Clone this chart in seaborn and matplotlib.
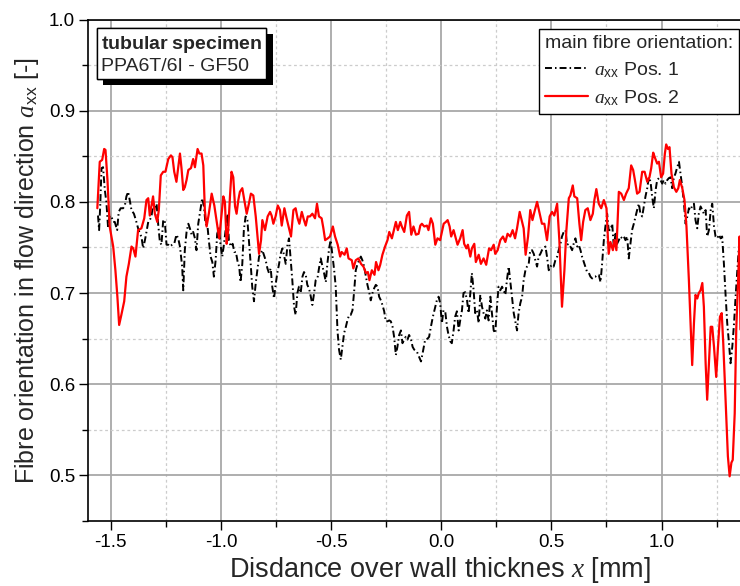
import numpy as np
import pandas as pd
import matplotlib
matplotlib.use("Agg")
import matplotlib.pyplot as plt
import seaborn as sns
from matplotlib.ticker import MultipleLocator, FormatStrFormatter
import matplotlib.patheffects as pe

# ---------------- data ----------------
pos1_x = [
    -1.558, -1.553, -1.548, -1.542, -1.535, -1.527, -1.520, -1.512, -1.505, -1.497,
    -1.489, -1.482, -1.471, -1.464, -1.455, -1.444, -1.436, -1.429, -1.421, -1.414,
    -1.406, -1.395, -1.386, -1.376, -1.368, -1.361, -1.353, -1.345, -1.338, -1.330,
    -1.323, -1.315, -1.308, -1.300, -1.292, -1.285, -1.277, -1.270, -1.262, -1.255,
    -1.247, -1.239, -1.232, -1.221, -1.212, -1.202, -1.194, -1.186, -1.176, -1.171,
    -1.164, -1.156, -1.148, -1.141, -1.133, -1.126, -1.118, -1.111, -1.103, -1.092,
    -1.085, -1.077, -1.070, -1.061, -1.055, -1.047, -1.039, -1.032, -1.024, -1.017,
    -1.009, -1.002, -0.994, -0.986, -0.977, -0.970, -0.964, -0.955, -0.947, -0.939,
    -0.932, -0.924, -0.917, -0.911, -0.903, -0.896, -0.888, -0.880, -0.873, -0.865,
    -0.858, -0.850, -0.842, -0.835, -0.827, -0.820, -0.812, -0.805, -0.797, -0.789,
    -0.782, -0.774, -0.767, -0.759, -0.752, -0.744, -0.736, -0.729, -0.721, -0.714,
    -0.706, -0.698, -0.691, -0.683, -0.676, -0.668, -0.661, -0.653, -0.646, -0.638,
    -0.630, -0.623, -0.615, -0.608, -0.600, -0.592, -0.585, -0.577, -0.570, -0.562,
    -0.555, -0.547, -0.539, -0.532, -0.524, -0.517, -0.509, -0.502, -0.494, -0.486,
    -0.479, -0.471, -0.464, -0.456, -0.449, -0.441, -0.433, -0.426, -0.418, -0.411,
    -0.403, -0.395, -0.388, -0.380, -0.373, -0.365, -0.358, -0.350, -0.342, -0.335,
    -0.327, -0.320, -0.312, -0.305, -0.297, -0.289, -0.282, -0.274, -0.267, -0.259,
    -0.252, -0.244, -0.236, -0.229, -0.221, -0.214, -0.206, -0.199, -0.191, -0.183,
    -0.176, -0.168, -0.161, -0.153, -0.146, -0.138, -0.130, -0.123, -0.111, -0.092,
    -0.083, -0.073, -0.062, -0.055, -0.047, -0.038, -0.029, -0.020, -0.012, -0.005,
    0.003, 0.010, 0.018, 0.026, 0.033, 0.041, 0.048, 0.056, 0.063, 0.071,
    0.079, 0.086, 0.094, 0.101, 0.109, 0.117, 0.124, 0.132, 0.139, 0.147,
    0.154, 0.162, 0.170, 0.177, 0.185, 0.192, 0.200, 0.207, 0.215, 0.223,
    0.230, 0.238, 0.245, 0.253, 0.260, 0.268, 0.276, 0.283, 0.291, 0.298,
    0.306, 0.313, 0.321, 0.329, 0.336, 0.344, 0.351, 0.359, 0.367, 0.374,
    0.382, 0.389, 0.397, 0.404, 0.412, 0.420, 0.427, 0.435, 0.442, 0.450,
    0.457, 0.465, 0.473, 0.480, 0.488, 0.495, 0.503, 0.510, 0.518, 0.526,
    0.533, 0.541, 0.548, 0.556, 0.564, 0.571, 0.579, 0.586, 0.594, 0.601,
    0.609, 0.617, 0.624, 0.632, 0.639, 0.647, 0.654, 0.662, 0.670, 0.677,
    0.685, 0.692, 0.700, 0.707, 0.715, 0.723, 0.730, 0.738, 0.745, 0.753,
    0.760, 0.768, 0.776, 0.783, 0.791, 0.798, 0.806, 0.813, 0.821, 0.829,
    0.836, 0.844, 0.851, 0.859, 0.866, 0.874, 0.882, 0.889, 0.897, 0.904,
    0.912, 0.920, 0.927, 0.935, 0.942, 0.950, 0.957, 0.965, 0.973, 0.980,
    0.988, 0.995, 1.003, 1.010, 1.018, 1.026, 1.033, 1.041, 1.048, 1.056,
    1.063, 1.071, 1.079, 1.086, 1.094, 1.101, 1.109, 1.117, 1.124, 1.132,
    1.139, 1.147, 1.154, 1.162, 1.169, 1.177, 1.185, 1.192, 1.200, 1.207,
    1.215, 1.223, 1.230, 1.238, 1.245, 1.253, 1.260, 1.268, 1.275, 1.283,
    1.291, 1.298, 1.306, 1.313, 1.321, 1.329, 1.336, 1.344, 1.351, 1.358,
]
pos1_y = [
    0.785, 0.769, 0.795, 0.837, 0.838, 0.813, 0.800, 0.771, 0.785, 0.784,
    0.778, 0.778, 0.769, 0.789, 0.793, 0.793, 0.796, 0.806, 0.811, 0.802,
    0.791, 0.787, 0.780, 0.771, 0.765, 0.762, 0.749, 0.758, 0.767, 0.778,
    0.780, 0.784, 0.800, 0.791, 0.798, 0.776, 0.756, 0.753, 0.780, 0.780,
    0.753, 0.753, 0.751, 0.753, 0.754, 0.764, 0.760, 0.751, 0.729, 0.703,
    0.747, 0.767, 0.776, 0.771, 0.764, 0.767, 0.760, 0.747, 0.776, 0.793,
    0.804, 0.795, 0.776, 0.773, 0.758, 0.740, 0.734, 0.718, 0.736, 0.765,
    0.771, 0.753, 0.740, 0.754, 0.773, 0.787, 0.758, 0.751, 0.754, 0.745,
    0.745, 0.734, 0.729, 0.712, 0.732, 0.769, 0.784, 0.780, 0.758, 0.732,
    0.707, 0.691, 0.711, 0.725, 0.740, 0.743, 0.747, 0.742, 0.736, 0.727,
    0.722, 0.727, 0.707, 0.694, 0.709, 0.722, 0.732, 0.743, 0.749, 0.742,
    0.732, 0.753, 0.760, 0.736, 0.714, 0.685, 0.676, 0.700, 0.707, 0.700,
    0.718, 0.723, 0.720, 0.709, 0.705, 0.696, 0.687, 0.700, 0.714, 0.716,
    0.727, 0.738, 0.729, 0.722, 0.712, 0.732, 0.749, 0.758, 0.742, 0.725,
    0.707, 0.659, 0.638, 0.627, 0.641, 0.656, 0.663, 0.670, 0.676, 0.676,
    0.681, 0.703, 0.725, 0.732, 0.736, 0.740, 0.736, 0.729, 0.718, 0.709,
    0.701, 0.692, 0.700, 0.705, 0.709, 0.707, 0.696, 0.692, 0.687, 0.680,
    0.669, 0.669, 0.670, 0.669, 0.663, 0.652, 0.632, 0.641, 0.654, 0.659,
    0.645, 0.649, 0.652, 0.649, 0.654, 0.650, 0.641, 0.638, 0.636, 0.625,
    0.636, 0.649, 0.650, 0.652, 0.663, 0.674, 0.683, 0.692, 0.696, 0.689,
    0.667, 0.681, 0.680, 0.663, 0.654, 0.647, 0.645, 0.659, 0.674, 0.680,
    0.659, 0.670, 0.681, 0.700, 0.701, 0.692, 0.678, 0.700, 0.722, 0.703,
    0.678, 0.681, 0.667, 0.698, 0.685, 0.678, 0.672, 0.681, 0.670, 0.696,
    0.678, 0.659, 0.656, 0.685, 0.707, 0.703, 0.707, 0.703, 0.698, 0.714,
    0.729, 0.714, 0.696, 0.678, 0.669, 0.659, 0.678, 0.689, 0.696, 0.714,
    0.725, 0.729, 0.732, 0.747, 0.747, 0.743, 0.736, 0.729, 0.740, 0.743,
    0.747, 0.749, 0.751, 0.740, 0.725, 0.729, 0.731, 0.729, 0.736, 0.740,
    0.747, 0.754, 0.762, 0.767, 0.769, 0.753, 0.754, 0.751, 0.747, 0.754,
    0.760, 0.751, 0.753, 0.747, 0.740, 0.734, 0.729, 0.723, 0.722, 0.718,
    0.716, 0.718, 0.718, 0.720, 0.720, 0.712, 0.732, 0.758, 0.773, 0.787,
    0.769, 0.769, 0.776, 0.751, 0.765, 0.754, 0.758, 0.762, 0.760, 0.762,
    0.758, 0.762, 0.738, 0.754, 0.769, 0.776, 0.784, 0.791, 0.798, 0.787,
    0.784, 0.796, 0.806, 0.815, 0.827, 0.822, 0.806, 0.793, 0.813, 0.824,
    0.826, 0.824, 0.820, 0.824, 0.820, 0.824, 0.826, 0.827, 0.815, 0.827,
    0.831, 0.838, 0.844, 0.831, 0.816, 0.800, 0.776, 0.784, 0.793, 0.791,
    0.796, 0.798, 0.780, 0.771, 0.787, 0.795, 0.791, 0.787, 0.791, 0.762,
    0.769, 0.791, 0.798, 0.773, 0.762, 0.760, 0.764, 0.760, 0.762, 0.732,
    0.696, 0.667, 0.645, 0.623, 0.641, 0.667, 0.696, 0.725, 0.751, 0.758,
]

pos2_x = [
    -1.561, -1.550, -1.539, -1.530, -1.524, -1.515, -1.505, -1.489, -1.479, -1.470,
    -1.462, -1.452, -1.439, -1.429, -1.418, -1.406, -1.398, -1.388, -1.376, -1.361,
    -1.348, -1.338, -1.330, -1.323, -1.315, -1.308, -1.300, -1.289, -1.282, -1.273,
    -1.262, -1.252, -1.239, -1.227, -1.220, -1.212, -1.202, -1.194, -1.186, -1.179,
    -1.171, -1.164, -1.156, -1.148, -1.136, -1.126, -1.118, -1.106, -1.098, -1.088,
    -1.080, -1.073, -1.065, -1.055, -1.042, -1.030, -1.020, -1.008, -0.997, -0.989,
    -0.982, -0.974, -0.967, -0.959, -0.952, -0.944, -0.936, -0.929, -0.921, -0.914,
    -0.903, -0.894, -0.883, -0.873, -0.864, -0.853, -0.842, -0.827, -0.818, -0.812,
    -0.800, -0.788, -0.777, -0.770, -0.762, -0.752, -0.742, -0.732, -0.724, -0.712,
    -0.702, -0.691, -0.682, -0.671, -0.661, -0.652, -0.644, -0.633, -0.623, -0.615,
    -0.606, -0.596, -0.585, -0.573, -0.564, -0.555, -0.543, -0.535, -0.527, -0.515,
    -0.505, -0.492, -0.482, -0.470, -0.459, -0.452, -0.439, -0.429, -0.421, -0.406,
    -0.399, -0.388, -0.376, -0.364, -0.353, -0.342, -0.333, -0.326, -0.315, -0.303,
    -0.296, -0.285, -0.277, -0.267, -0.255, -0.244, -0.236, -0.224, -0.217, -0.206,
    -0.197, -0.186, -0.179, -0.168, -0.156, -0.146, -0.136, -0.126, -0.115, -0.103,
    -0.095, -0.088, -0.077, -0.065, -0.058, -0.047, -0.038, -0.027, -0.017, -0.005,
    0.003, 0.011, 0.021, 0.029, 0.038, 0.045, 0.056, 0.064, 0.074, 0.086,
    0.097, 0.104, 0.114, 0.121, 0.132, 0.139, 0.150, 0.157, 0.170, 0.180,
    0.192, 0.204, 0.217, 0.226, 0.238, 0.245, 0.256, 0.268, 0.280, 0.291,
    0.301, 0.313, 0.324, 0.335, 0.344, 0.356, 0.365, 0.374, 0.383, 0.394,
    0.404, 0.414, 0.423, 0.435, 0.447, 0.457, 0.468, 0.480, 0.492, 0.503,
    0.513, 0.526, 0.536, 0.548, 0.559, 0.568, 0.579, 0.586, 0.597, 0.604,
    0.617, 0.627, 0.635, 0.644, 0.654, 0.665, 0.677, 0.688, 0.695, 0.704,
    0.715, 0.726, 0.738, 0.750, 0.760, 0.768, 0.779, 0.786, 0.795, 0.806,
    0.817, 0.829, 0.839, 0.851, 0.862, 0.871, 0.879, 0.889, 0.900, 0.912,
    0.923, 0.935, 0.945, 0.953, 0.962, 0.969, 0.980, 0.988, 0.998, 1.007,
    1.015, 1.021, 1.029, 1.036, 1.045, 1.056, 1.067, 1.076, 1.083, 1.094,
    1.104, 1.113, 1.124, 1.132, 1.139, 1.147, 1.154, 1.162, 1.169, 1.177,
    1.185, 1.192, 1.200, 1.207, 1.215, 1.223, 1.230, 1.238, 1.248, 1.256,
    1.265, 1.273, 1.280, 1.291, 1.301, 1.309, 1.317, 1.323, 1.332, 1.339,
    1.348, 1.354, 1.358,
]
pos2_y = [
    0.793, 0.844, 0.846, 0.858, 0.857, 0.824, 0.773, 0.751, 0.725, 0.696,
    0.665, 0.676, 0.691, 0.718, 0.732, 0.751, 0.749, 0.740, 0.769, 0.771,
    0.782, 0.802, 0.804, 0.785, 0.796, 0.806, 0.787, 0.778, 0.791, 0.829,
    0.833, 0.833, 0.847, 0.851, 0.849, 0.833, 0.822, 0.838, 0.853, 0.837,
    0.813, 0.816, 0.824, 0.835, 0.837, 0.847, 0.838, 0.858, 0.853, 0.853,
    0.840, 0.791, 0.773, 0.787, 0.809, 0.796, 0.780, 0.760, 0.787, 0.806,
    0.800, 0.754, 0.769, 0.806, 0.833, 0.827, 0.795, 0.787, 0.802, 0.811,
    0.815, 0.802, 0.787, 0.798, 0.809, 0.807, 0.784, 0.743, 0.758, 0.780,
    0.769, 0.784, 0.789, 0.785, 0.776, 0.784, 0.796, 0.791, 0.774, 0.793,
    0.782, 0.771, 0.762, 0.791, 0.793, 0.782, 0.776, 0.789, 0.780, 0.774,
    0.784, 0.784, 0.787, 0.782, 0.798, 0.784, 0.782, 0.771, 0.758, 0.760,
    0.762, 0.773, 0.762, 0.753, 0.740, 0.745, 0.742, 0.749, 0.738, 0.736,
    0.727, 0.736, 0.738, 0.732, 0.729, 0.722, 0.723, 0.714, 0.725, 0.720,
    0.734, 0.725, 0.731, 0.742, 0.751, 0.758, 0.767, 0.760, 0.767, 0.778,
    0.769, 0.778, 0.773, 0.767, 0.785, 0.789, 0.764, 0.773, 0.764, 0.765,
    0.774, 0.776, 0.773, 0.774, 0.769, 0.782, 0.776, 0.753, 0.760, 0.758,
    0.767, 0.776, 0.778, 0.780, 0.773, 0.762, 0.769, 0.762, 0.753, 0.760,
    0.769, 0.754, 0.749, 0.753, 0.740, 0.749, 0.754, 0.734, 0.742, 0.732,
    0.738, 0.731, 0.749, 0.747, 0.753, 0.743, 0.747, 0.758, 0.762, 0.756,
    0.765, 0.762, 0.769, 0.760, 0.771, 0.789, 0.780, 0.771, 0.742, 0.762,
    0.791, 0.780, 0.789, 0.800, 0.787, 0.776, 0.776, 0.758, 0.784, 0.789,
    0.785, 0.798, 0.758, 0.685, 0.725, 0.769, 0.804, 0.807, 0.818, 0.806,
    0.804, 0.776, 0.758, 0.778, 0.791, 0.793, 0.780, 0.787, 0.802, 0.814,
    0.798, 0.793, 0.802, 0.793, 0.743, 0.756, 0.747, 0.758, 0.747, 0.811,
    0.809, 0.802, 0.809, 0.815, 0.840, 0.835, 0.824, 0.809, 0.811, 0.833,
    0.833, 0.822, 0.827, 0.837, 0.854, 0.849, 0.842, 0.844, 0.827, 0.831,
    0.853, 0.863, 0.858, 0.860, 0.831, 0.816, 0.811, 0.815, 0.824, 0.815,
    0.802, 0.773, 0.714, 0.663, 0.621, 0.667, 0.698, 0.694, 0.700, 0.703,
    0.711, 0.685, 0.623, 0.583, 0.623, 0.663, 0.663, 0.641, 0.608, 0.641,
    0.674, 0.678, 0.645, 0.579, 0.521, 0.499, 0.514, 0.517, 0.568, 0.660,
    0.718, 0.762, 0.660,
]

label_pos1 = r"$a_{\mathrm{xx}}$ Pos. 1"
label_pos2 = r"$a_{\mathrm{xx}}$ Pos. 2"
legend_title = "main fibre orientation:"
box_line1 = "tubular specimen"
box_line2 = "PPA6T/6I - GF50"
x_label = r"Disdance over wall thicknes $x$ [mm]"
y_label = r"Fibre orientation in flow direction $a_{\mathrm{xx}}$ [-]"

# ---------------- style ----------------
sns.set_style("white")
plt.rcParams["font.family"] = ["Liberation Sans", "DejaVu Sans"]
plt.rcParams["mathtext.fontset"] = "custom"
plt.rcParams["mathtext.rm"] = "Liberation Sans"
plt.rcParams["mathtext.it"] = "Liberation Serif:italic"
plt.rcParams["mathtext.bf"] = "Liberation Sans:bold"
plt.rcParams["axes.unicode_minus"] = False
plt.rcParams["lines.scale_dashes"] = False

fig = plt.figure(figsize=(7.4, 5.86), dpi=100)
ax = fig.add_axes([88.3 / 740, 65 / 586, 651.7 / 740, 501.5 / 586])

df1 = pd.DataFrame({"x": pos1_x, "y": pos1_y})
df2 = pd.DataFrame({"x": pos2_x, "y": pos2_y})

sns.lineplot(data=df1, x="x", y="y", ax=ax, color="black", linewidth=1.4,
             linestyle=(0, (5.0, 2.2, 1.1, 2.2)), label=label_pos1,
             errorbar=None, sort=False)
sns.lineplot(data=df2, x="x", y="y", ax=ax, color="#ff0000", linewidth=1.6,
             label=label_pos2, errorbar=None, sort=False)

ax.set_xlim(-1.602, 1.356)
ax.set_ylim(0.45, 1.0)
ax.xaxis.set_major_locator(MultipleLocator(0.5))
ax.xaxis.set_minor_locator(MultipleLocator(0.25))
ax.yaxis.set_major_locator(MultipleLocator(0.1))
ax.yaxis.set_minor_locator(MultipleLocator(0.05))
ax.xaxis.set_major_formatter(FormatStrFormatter("%.1f"))
ax.yaxis.set_major_formatter(FormatStrFormatter("%.1f"))

ax.tick_params(which="major", direction="out", length=6.5, width=1.0,
               labelsize=13.5, colors="black", bottom=True, left=True,
               top=False, right=False, pad=3)
ax.tick_params(which="minor", direction="out", length=4.5, width=1.0,
               colors="black", bottom=True, left=True, top=False, right=False)

ax.grid(which="major", color="#a8a8a8", linewidth=1.3)
ax.grid(which="minor", color="#cccccc", linewidth=0.9, linestyle=(0, (2, 2)))
ax.set_axisbelow(True)

for s in ["left", "bottom", "top"]:
    ax.spines[s].set_color("black")
    ax.spines[s].set_linewidth(1.2)
ax.spines["right"].set_visible(False)

ax.set_xlabel(x_label, fontsize=19.5)
ax.xaxis.set_label_coords(0.54, -0.068, transform=ax.transAxes)
ax.set_ylabel(y_label, fontsize=18, labelpad=6)

leg = ax.legend(loc="upper right", bbox_to_anchor=(0.9985, 0.9805),
                borderaxespad=0, title=legend_title, fontsize=14,
                title_fontsize=14, frameon=True, fancybox=False,
                edgecolor="black", framealpha=1, handlelength=2.2,
                handletextpad=0.3, borderpad=0.3, labelspacing=0.42)
leg.get_frame().set_linewidth(1.0)
leg._legend_box.align = "left"

t = ax.text(0.0195, 0.971, r"$\mathbf{tubular\ specimen}$" + "\n" + box_line2,
            transform=ax.transAxes, ha="left", va="top", fontsize=14,
            linespacing=1.2,
            bbox=dict(boxstyle="square,pad=0.2", fc="white", ec="black", lw=1.0))
t.get_bbox_patch().set_path_effects([
    pe.withSimplePatchShadow(offset=(4.5, -4.5), shadow_rgbFace="black", alpha=1.0),
    pe.Normal(),
])

fig.savefig("out.png", dpi=100)
